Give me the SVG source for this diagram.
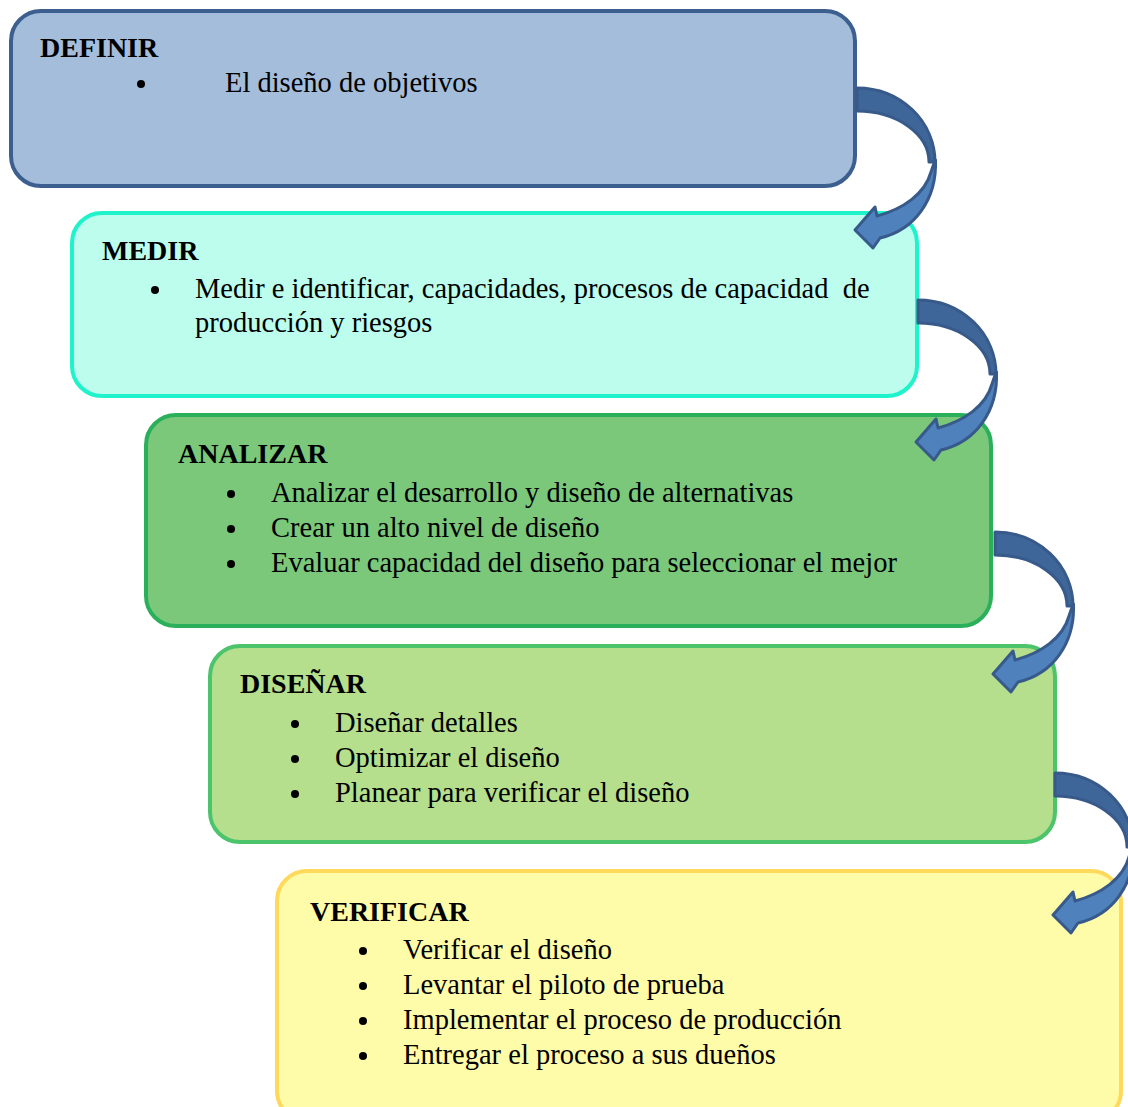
<svg xmlns="http://www.w3.org/2000/svg" xmlns:xlink="http://www.w3.org/1999/xlink" width="1128" height="1107" viewBox="0 0 1128 1107">
  <style>
    .box { stroke-width: 4; }
    .title { font-family: "Liberation Serif", "Times New Roman", serif; font-weight: bold; font-size: 28px; fill: #000; }
    .item { font-family: "Liberation Serif", "Times New Roman", serif; font-size: 28.5px; fill: #000; white-space: pre; }
    .dot { fill: #000; }
    .arr-back { fill: #3f6699; stroke: #375a8a; stroke-width: 3; stroke-linejoin: round; }
    .arr-front { fill: #4f81bd; stroke: #375a8a; stroke-width: 3; stroke-linejoin: round; }
  </style>
  <defs>
    <!-- curved "turn down-left" arrow, origin at the top of its tail -->
    <g id="curved-arrow">
      <path class="arr-back" d="M0,0 A78,74 0 0 1 78,74 L72,74 A72,51 0 0 0 0,23 Z"/>
      <path class="arr-front" d="M78.5,72 C80,111 58,142 23,150 L16,160 L-2,142 L18,119 L20,128 C46,121 68,106 74,84 C76,78 77,75 78.5,72 Z"/>
    </g>
  </defs>

  <rect width="1128" height="1107" fill="#ffffff"/>

  <g id="definir">
    <rect class="box" x="11" y="11" width="844" height="175" rx="30" fill="#a3bddb" stroke="#3d5f8f"/>
    <text class="title" x="40" y="57">DEFINIR</text>
    <circle class="dot" cx="141" cy="84" r="4"/>
    <text class="item" x="225" y="92">El diseño de objetivos</text>
  </g>

  <g id="medir">
    <rect class="box" x="72" y="213" width="845" height="183" rx="30" fill="#bcfdee" stroke="#1ef3cb"/>
    <text class="title" x="102" y="260">MEDIR</text>
    <circle class="dot" cx="155" cy="290" r="4"/>
    <text class="item" x="195" y="298" xml:space="preserve">Medir e identificar, capacidades, procesos de capacidad  de</text>
    <text class="item" x="195" y="332">producción y riesgos</text>
  </g>

  <g id="analizar">
    <rect class="box" x="146" y="415" width="845" height="211" rx="30" fill="#7bc87b" stroke="#2ab05a"/>
    <text class="title" x="178" y="463">ANALIZAR</text>
    <circle class="dot" cx="231" cy="494" r="4"/>
    <text class="item" x="271" y="502">Analizar el desarrollo y diseño de alternativas</text>
    <circle class="dot" cx="231" cy="529" r="4"/>
    <text class="item" x="271" y="537">Crear un alto nivel de diseño</text>
    <circle class="dot" cx="231" cy="564" r="4"/>
    <text class="item" x="271" y="572">Evaluar capacidad del diseño para seleccionar el mejor</text>
  </g>

  <g id="disenar">
    <rect class="box" x="210" y="646" width="845" height="196" rx="30" fill="#b5df8c" stroke="#4cc46c"/>
    <text class="title" x="240" y="693">DISEÑAR</text>
    <circle class="dot" cx="295" cy="724" r="4"/>
    <text class="item" x="335" y="732">Diseñar detalles</text>
    <circle class="dot" cx="295" cy="759" r="4"/>
    <text class="item" x="335" y="767">Optimizar el diseño</text>
    <circle class="dot" cx="295" cy="794" r="4"/>
    <text class="item" x="335" y="802">Planear para verificar el diseño</text>
  </g>

  <g id="verificar">
    <rect class="box" x="277" y="871" width="844" height="250" rx="30" fill="#fffca9" stroke="#ffd95c"/>
    <text class="title" x="310" y="921">VERIFICAR</text>
    <circle class="dot" cx="363" cy="951" r="4"/>
    <text class="item" x="403" y="959">Verificar el diseño</text>
    <circle class="dot" cx="363" cy="986" r="4"/>
    <text class="item" x="403" y="994">Levantar el piloto de prueba</text>
    <circle class="dot" cx="363" cy="1021" r="4"/>
    <text class="item" x="403" y="1029">Implementar el proceso de producción</text>
    <circle class="dot" cx="363" cy="1056" r="4"/>
    <text class="item" x="403" y="1064">Entregar el proceso a sus dueños</text>
  </g>

  <g id="connectors">
    <use xlink:href="#curved-arrow" transform="translate(857,88)"/>
    <use xlink:href="#curved-arrow" transform="translate(918,300)"/>
    <use xlink:href="#curved-arrow" transform="translate(995,532)"/>
    <use xlink:href="#curved-arrow" transform="translate(1055,773)"/>
  </g>
</svg>
